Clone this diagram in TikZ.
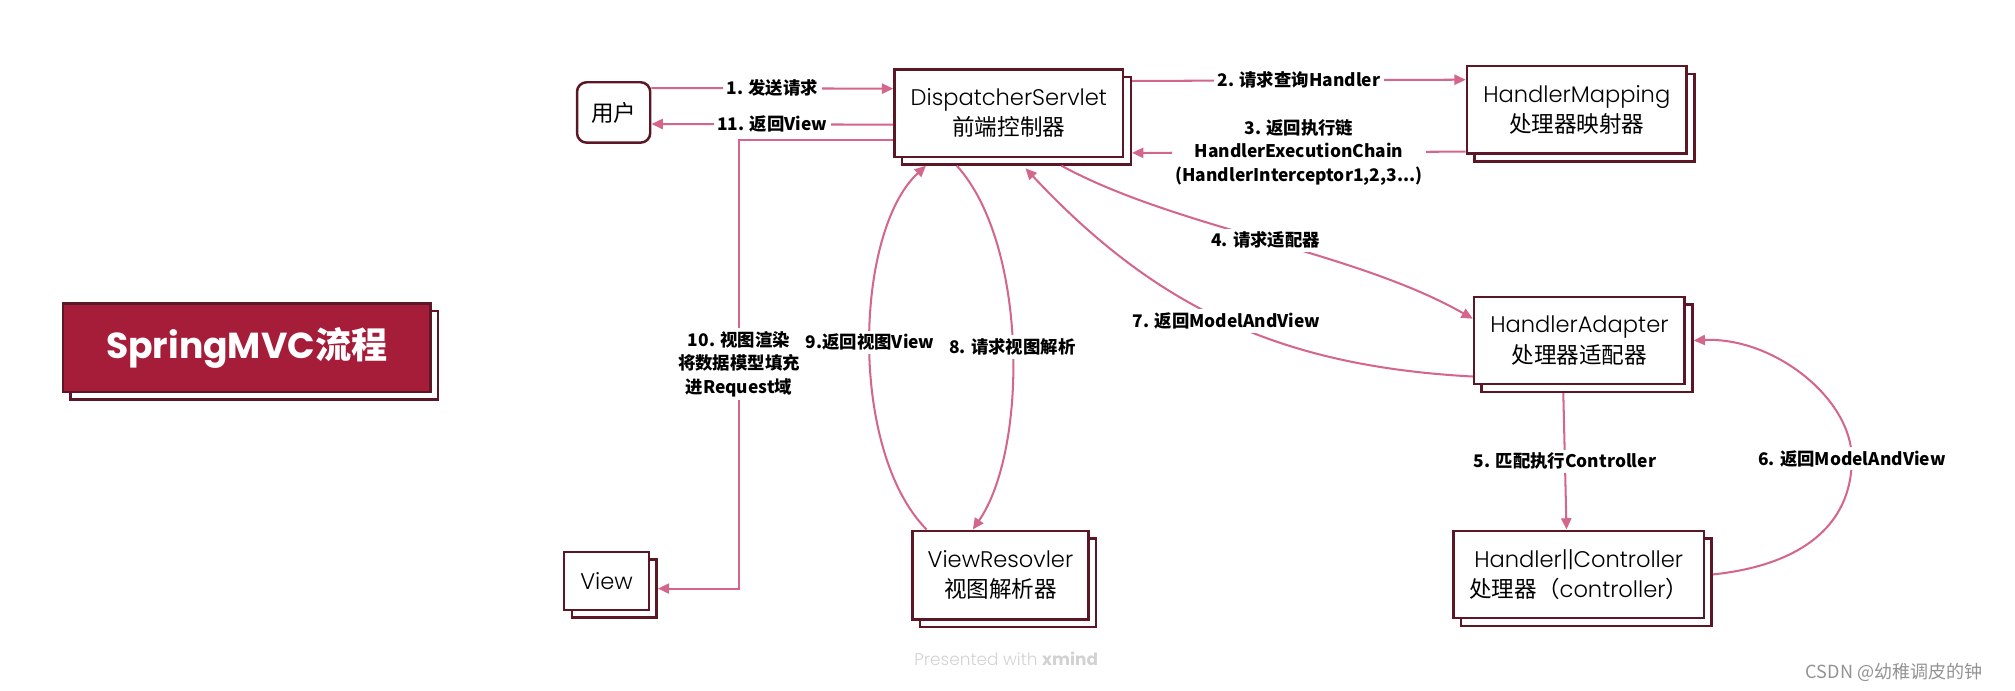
\documentclass[tikz,border=0pt]{standalone}
\usepackage{fontspec}
\usetikzlibrary{shadows,arrows.meta,calc,backgrounds}
\newfontfamily\pop{Poppins}[UprightFont={* Light}]
\newfontfamily\popr{Poppins}
\newfontfamily\cjk{Noto Sans CJK SC}
\definecolor{boxc}{HTML}{5B1726}
\definecolor{edgec}{HTML}{D4668C}
\definecolor{titlec}{HTML}{A51D39}
\tikzset{
  shad/.style={general shadow={shadow xshift=0.12cm, shadow yshift=-0.12cm, fill=white, draw=boxc, line width=1.1pt}},
  box/.style={draw=boxc, fill=white, line width=1.1pt, shad, align=center, inner sep=2pt,
    font=\fontsize{10}{13.5}\selectfont, minimum height=1.36cm},
  edge/.style={draw=edgec, line width=0.9pt, -{Triangle[length=5pt,width=4.5pt]}},
  lbl/.style={font=\cjk\bfseries\fontsize{7.7}{10.3}\selectfont, fill=white, inner sep=1.5pt, align=center, text=black}
}
\begin{document}
\begin{tikzpicture}[x=0.02cm, y=-0.02cm]
\useasboundingbox (0,0) rectangle (1568,537);

% title
\node[draw=boxc, fill=titlec, line width=1.1pt, shad, minimum width=5.72cm, minimum height=1.38cm,
  text=white, font=\fontsize{16}{19}\selectfont] (title) at (192,270.5) {{\popr\bfseries SpringMVC}{\cjk\bfseries 流程}};

% nodes
\node[draw=boxc, fill=white, line width=1.1pt, rounded corners=0.15cm, minimum width=1.14cm, minimum height=0.94cm,
  font=\fontsize{10}{13.5}\selectfont] (user) at (477.5,87.5) {\cjk 用户};
\node[box, minimum width=3.56cm] (ds) at (785,88) {{\pop DispatcherServlet}\\{\cjk 前端控制器}};
\node[box, minimum width=3.42cm] (hm) at (1227,85.5) {{\pop HandlerMapping}\\{\cjk 处理器映射器}};
\node[box, minimum width=3.28cm] (ha) at (1229,265) {{\pop HandlerAdapter}\\{\cjk 处理器适配器}};
\node[box, minimum width=3.90cm] (hc) at (1228.5,447) {{\pop Handler||Controller}\\{\cjk 处理器（}{\pop controller}{\cjk ）}};
\node[box, minimum width=2.74cm, minimum height=1.38cm] (vr) at (778.5,447.5) {{\pop ViewResovler}\\{\cjk 视图解析器}};
\node[box, minimum width=1.32cm, minimum height=0.90cm] (view) at (472,452) {\pop View};

% edges
\draw[edge] ([yshift=0.38cm]user.east) -- node[lbl] {1. 发送请求} ([yshift=0.38cm]ds.west);
\draw[edge] ([yshift=-0.18cm]ds.west) -- node[lbl] {11. 返回View} ([yshift=-0.18cm]user.east);
\draw[edge] ([yshift=-0.42cm]ds.west) -- ++(-120,0)
  |- node[lbl, pos=0.25] {10. 视图渲染\\将数据模型填充\\进Request域} ([xshift=0.12cm,yshift=-0.12cm]view.east);
\draw[edge] ([xshift=0.12cm,yshift=0.5cm]ds.east) -- node[lbl] {2. 请求查询Handler} ([yshift=0.47cm]hm.west);
\draw[edge] ([yshift=-0.65cm]hm.west) -- node[lbl] {3. 返回执行链\\HandlerExecutionChain\\(HandlerInterceptor1,2,3...)} ([xshift=0.12cm,yshift=-0.62cm]ds.east);
\draw[edge] ([xshift=0.82cm,yshift=-0.12cm]ds.south) .. controls (916,178) and (1053,195) .. node[lbl, pos=0.5] {4. 请求适配器} ([yshift=0.34cm]ha.west);
\draw[edge] ([yshift=-0.56cm]ha.west) .. controls (997,285) and (900,240) .. node[lbl, pos=0.5] {7. 返回ModelAndView} ([xshift=0.26cm,yshift=-0.16cm]ds.south);
\draw[edge] ([xshift=-0.25cm,yshift=-0.12cm]ha.south) -- node[lbl] {5. 匹配执行Controller} ([xshift=-0.19cm]hc.north);
\draw[edge] ([xshift=0.12cm]hc.east) .. controls (1400,440) and (1441,410) .. (1441,357) node[lbl] {6. 返回ModelAndView}
  .. controls (1441,310) and (1380,262) .. ([xshift=0.12cm]ha.east);
\draw[edge] ([xshift=-0.81cm,yshift=-0.12cm]ds.south) .. controls (800,190) and (800,350) .. node[lbl, pos=0.5] {8. 请求视图解析} ([xshift=-0.43cm]vr.north);
\draw[edge] ([xshift=-1.15cm]vr.north) .. controls (660,350) and (665,180) .. node[lbl, pos=0.5] {9.返回视图View} ([xshift=-1.29cm,yshift=-0.12cm]ds.south);

% watermarks
\node[text=gray!35, font=\fontsize{7.5}{9}\selectfont] (xm) at (783,513) {{\pop Presented with }{\popr\bfseries xmind}};
\node[text=gray!85, font=\cjk\fontsize{8}{10}\selectfont] (csdn) at (1474,523) {CSDN @幼稚调皮的钟};
\end{tikzpicture}
\end{document}
